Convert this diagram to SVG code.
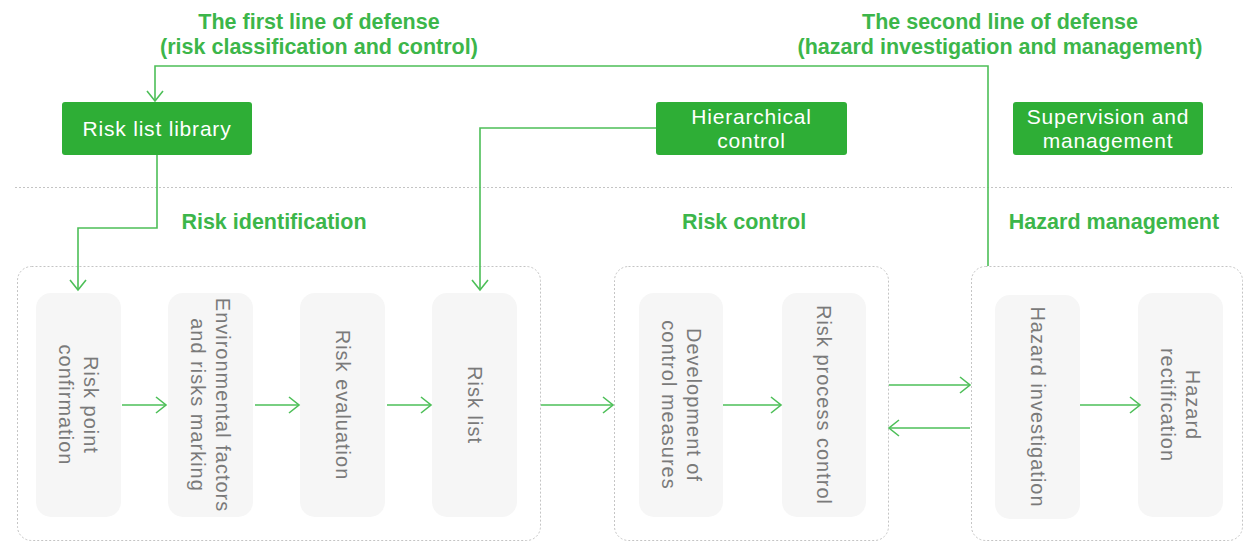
<svg xmlns="http://www.w3.org/2000/svg" width="1246" height="542" viewBox="0 0 1246 542">
<style>
.title{font-family:"Liberation Sans",Arial,sans-serif;font-weight:bold;font-size:21.5px;fill:#3cb64a;text-anchor:middle}
.sec{font-family:"Liberation Sans",Arial,sans-serif;font-weight:bold;font-size:21.5px;fill:#3cb64a;text-anchor:middle}
.gbox{fill:#2eae36;}
.gtxt{font-family:"Liberation Sans",Arial,sans-serif;font-size:21px;letter-spacing:0.8px;fill:#ffffff;text-anchor:middle}
.cont{fill:none;stroke:#c4c4c4;stroke-width:1;stroke-dasharray:2,2}
.step{fill:#f6f6f6}
.stxt{font-family:"Liberation Sans",Arial,sans-serif;font-size:20px;letter-spacing:1px;fill:#7a7a7a;text-anchor:middle}
.conn{fill:none;stroke:#4dbf58;stroke-width:1.6}
</style>
<defs>
<marker id="arr" markerUnits="userSpaceOnUse" markerWidth="14" markerHeight="20" refX="11" refY="9" orient="auto">
<path d="M1,1 L11,9 L1,17" fill="none" stroke="#4dbf58" stroke-width="1.6"/>
</marker>
</defs>

<text class="title" x="319" y="29">The first line of defense</text>
<text class="title" x="319" y="54">(risk classification and control)</text>
<text class="title" x="1000" y="29">The second line of defense</text>
<text class="title" x="1000" y="54">(hazard investigation and management)</text>

<line x1="15" y1="187.5" x2="1232" y2="187.5" stroke="#c4c4c4" stroke-width="1" stroke-dasharray="2,2"/>

<text class="sec" x="274" y="229">Risk identification</text>
<text class="sec" x="744" y="229">Risk control</text>
<text class="sec" x="1114" y="229">Hazard management</text>

<g id="risk-list-library">
<rect class="gbox" x="62" y="102" width="190" height="53" rx="3"/>
<text class="gtxt" x="157" y="136">Risk list library</text>
</g>
<g id="hierarchical-control">
<rect class="gbox" x="656" y="102" width="191" height="53" rx="3"/>
<text class="gtxt" x="751.5" y="124">Hierarchical</text>
<text class="gtxt" x="751.5" y="148">control</text>
</g>
<g id="supervision-management">
<rect class="gbox" x="1013" y="102" width="190" height="53" rx="3"/>
<text class="gtxt" x="1108" y="124">Supervision and</text>
<text class="gtxt" x="1108" y="148">management</text>
</g>

<g id="risk-identification">
<rect class="cont" x="17.5" y="266.5" width="523" height="274" rx="14"/>
</g>
<g id="risk-control">
<rect class="cont" x="614.5" y="266.5" width="274" height="274" rx="14"/>
</g>
<g id="hazard-management">
<rect class="cont" x="971.5" y="266.5" width="271" height="274" rx="14"/>
</g>

<g id="risk-point-confirmation">
<rect class="step" x="36" y="293" width="85" height="224" rx="15"/>
<g transform="translate(78,405) rotate(90)">
<text class="stxt" x="0" y="-5.5">Risk point</text>
<text class="stxt" x="0" y="19.5">confirmation</text>
</g>
</g>
<g id="environmental-factors">
<rect class="step" x="168" y="293" width="85" height="224" rx="15"/>
<g transform="translate(210.5,405) rotate(90)">
<text class="stxt" x="0" y="-5.5">Environmental factors</text>
<text class="stxt" x="0" y="19.5">and risks marking</text>
</g>
</g>
<g id="risk-evaluation">
<rect class="step" x="300" y="293" width="85" height="224" rx="15"/>
<g transform="translate(342.5,405) rotate(90)">
<text class="stxt" x="0" y="7">Risk evaluation</text>
</g>
</g>
<g id="risk-list">
<rect class="step" x="432" y="293" width="85" height="224" rx="15"/>
<g transform="translate(474.5,405) rotate(90)">
<text class="stxt" x="0" y="7">Risk list</text>
</g>
</g>
<g id="development-control-measures">
<rect class="step" x="639" y="293" width="84" height="224" rx="15"/>
<g transform="translate(681,405) rotate(90)">
<text class="stxt" x="0" y="-5.5">Development of</text>
<text class="stxt" x="0" y="19.5">control measures</text>
</g>
</g>
<g id="risk-process-control">
<rect class="step" x="782" y="293" width="84" height="224" rx="15"/>
<g transform="translate(824,405) rotate(90)">
<text class="stxt" x="0" y="7">Risk process control</text>
</g>
</g>
<g id="hazard-investigation">
<rect class="step" x="995" y="295" width="85" height="224" rx="15"/>
<g transform="translate(1037.5,407) rotate(90)">
<text class="stxt" x="0" y="7">Hazard investigation</text>
</g>
</g>
<g id="hazard-rectification">
<rect class="step" x="1138" y="293" width="85" height="224" rx="15"/>
<g transform="translate(1180.5,405) rotate(90)">
<text class="stxt" x="0" y="-5.5">Hazard</text>
<text class="stxt" x="0" y="19.5">rectification</text>
</g>
</g>

<g id="connectors">
<polyline class="conn" points="988,266 988,66 155,66 155,101" marker-end="url(#arr)"/>
<polyline class="conn" points="157,155 157,228 78,228 78,290" marker-end="url(#arr)"/>
<polyline class="conn" points="656,128 480,128 480,290" marker-end="url(#arr)"/>
<line class="conn" x1="122" y1="405" x2="166" y2="405" marker-end="url(#arr)"/>
<line class="conn" x1="255" y1="405" x2="299" y2="405" marker-end="url(#arr)"/>
<line class="conn" x1="387" y1="405" x2="431" y2="405" marker-end="url(#arr)"/>
<line class="conn" x1="541" y1="405" x2="613" y2="405" marker-end="url(#arr)"/>
<line class="conn" x1="723" y1="405" x2="781" y2="405" marker-end="url(#arr)"/>
<line class="conn" x1="889" y1="385" x2="970" y2="385" marker-end="url(#arr)"/>
<line class="conn" x1="970" y1="428" x2="889" y2="428" marker-end="url(#arr)"/>
<line class="conn" x1="1080" y1="405" x2="1140" y2="405" marker-end="url(#arr)"/>
</g>
</svg>
